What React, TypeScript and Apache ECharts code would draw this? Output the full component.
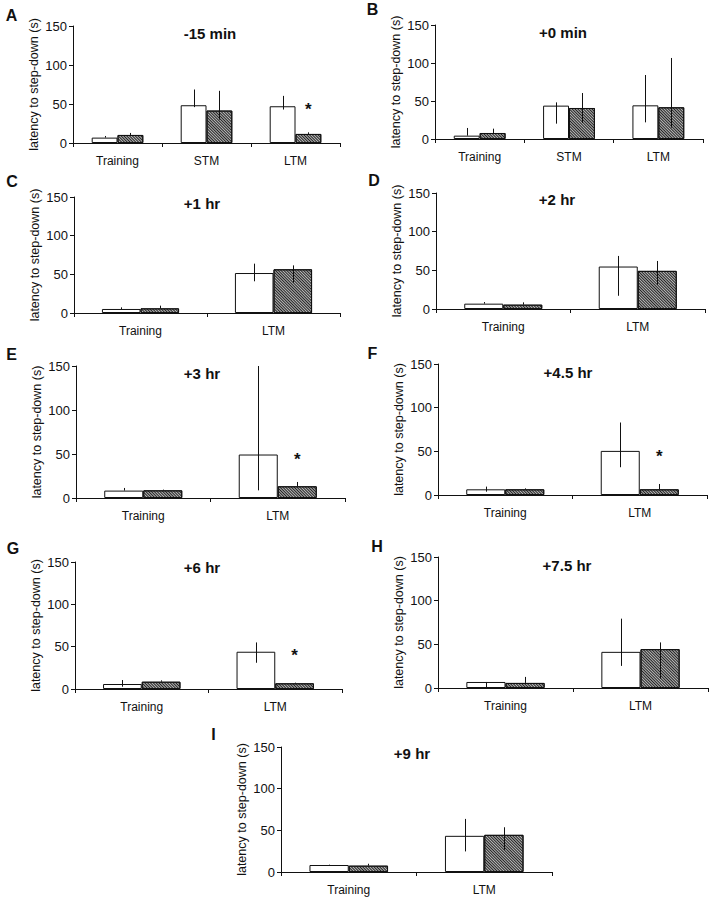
import React, { useEffect, useRef } from 'react';
import * as echarts from 'echarts';

const FONT = '"Liberation Sans", Arial, Helvetica, sans-serif';

// ---------- categories & ticks ----------
const cats3 = ['Training', 'STM', 'LTM'];
const cats2 = ['Training', 'LTM'];
const yTicks = [0, 50, 100, 150];

// ---------- data (mean, [low, high] error extents, significance star heights) ----------
// A: -15 min
const aWhite = [6.9, 48.4, 47.1];
const aWhiteErr = [[6.9, 9], [46, 68.6], [42.9, 60.4]];
const aHatch = [10.3, 41.6, 11.6];
const aHatchErr = [[10.3, 12.9], [30, 66.9], [11.6, 13.7]];
const aStars = [null, null, 47];

// B: +0 min
const bWhite = [4.4, 43.9, 44.3];
const bWhiteErr = [[4.4, 14.5], [20.2, 48.2], [21.9, 84.2]];
const bHatch = [7.9, 40.8, 41.7];
const bHatchErr = [[7.9, 13.6], [21, 60.5], [15, 106.6]];
const bStars = [null, null, null];

// C: +1 hr
const cWhite = [5.2, 51.7];
const cWhiteErr = [[5.2, 7.3], [41, 63.8]];
const cHatch = [6, 56.5];
const cHatchErr = [[6, 9.5], [39.2, 61.6]];
const cStars = [null, null];

// D: +2 hr
const dWhite = [6.9, 54.9];
const dWhiteErr = [[6.9, 9], [17.1, 68.6]];
const dHatch = [5.6, 49.3];
const dHatchErr = [[5.6, 8.6], [31.3, 62.1]];
const dStars = [null, null];

// E: +3 hr
const eWhite = [8.4, 49.4];
const eWhiteErr = [[8.4, 11.4], [8.7, 150]];
const eHatch = [8.7, 13.3];
const eHatchErr = [[8.7, 9.5], [13.3, 18.2]];
const eStars = [null, 46.7];

// F: +4.5 hr
const fWhite = [6.5, 50.5];
const fWhiteErr = [[3.8, 9.6], [31.8, 83]];
const fHatch = [6.5, 6.5];
const fHatchErr = [[6.5, 7.6], [6.5, 12.6]];
const fStars = [null, 48];

// G: +6 hr
const gWhite = [5.9, 44];
const gWhiteErr = [[2.7, 10.6], [31, 55]];
const gHatch = [8.6, 6.7];
const gHatchErr = [[8.6, 10.2], [6.7, 7.5]];
const gStars = [null, 42.8];

// H: +7.5 hr
const hWhite = [6.9, 41.4];
const hWhiteErr = [[0, 6.9], [25.3, 79.4]];
const hHatch = [5.8, 44.5];
const hHatchErr = [[5.8, 12.7], [10.7, 52.2]];
const hStars = [null, null];

// I: +9 hr
const iWhite = [8.4, 43.4];
const iWhiteErr = [[8.4, 8.8], [24.7, 63.7]];
const iHatch = [7.6, 44.6];
const iHatchErr = [[7.6, 9.9], [26.7, 53.7]];
const iStars = [null, null];

const panels = [
  { letter: 'A', title: '-15 min', cats: cats3, white: aWhite, whiteErr: aWhiteErr, hatch: aHatch, hatchErr: aHatchErr, stars: aStars },
  { letter: 'B', title: '+0 min', cats: cats3, white: bWhite, whiteErr: bWhiteErr, hatch: bHatch, hatchErr: bHatchErr, stars: bStars },
  { letter: 'C', title: '+1 hr', cats: cats2, white: cWhite, whiteErr: cWhiteErr, hatch: cHatch, hatchErr: cHatchErr, stars: cStars },
  { letter: 'D', title: '+2 hr', cats: cats2, white: dWhite, whiteErr: dWhiteErr, hatch: dHatch, hatchErr: dHatchErr, stars: dStars },
  { letter: 'E', title: '+3 hr', cats: cats2, white: eWhite, whiteErr: eWhiteErr, hatch: eHatch, hatchErr: eHatchErr, stars: eStars },
  { letter: 'F', title: '+4.5 hr', cats: cats2, white: fWhite, whiteErr: fWhiteErr, hatch: fHatch, hatchErr: fHatchErr, stars: fStars },
  { letter: 'G', title: '+6 hr', cats: cats2, white: gWhite, whiteErr: gWhiteErr, hatch: gHatch, hatchErr: gHatchErr, stars: gStars },
  { letter: 'H', title: '+7.5 hr', cats: cats2, white: hWhite, whiteErr: hWhiteErr, hatch: hHatch, hatchErr: hHatchErr, stars: hStars },
  { letter: 'I', title: '+9 hr', cats: cats2, white: iWhite, whiteErr: iWhiteErr, hatch: iHatch, hatchErr: iHatchErr, stars: iStars },
];

// ---------- layout (px) ----------
const layouts = [
  { l: 73, t: 26, w: 267, h: 117, lx: 11.5, ly: 15.5, tx: 210, ty: 33 },
  { l: 435, t: 25, w: 268, h: 114, lx: 372.5, ly: 9.5, tx: 563, ty: 32 },
  { l: 74, t: 197, w: 266, h: 116, lx: 12, ly: 181, tx: 202, ty: 203 },
  { l: 436, t: 193, w: 269, h: 116, lx: 374, ly: 180.5, tx: 557, ty: 199 },
  { l: 76, t: 366, w: 269, h: 132, lx: 11.5, ly: 354.5, tx: 202, ty: 373 },
  { l: 438, t: 364, w: 269, h: 131, lx: 372.5, ly: 353, tx: 568, ty: 372 },
  { l: 75, t: 562, w: 267, h: 127, lx: 13, ly: 548, tx: 202, ty: 567 },
  { l: 438, t: 557, w: 270, h: 131, lx: 377, ly: 546.5, tx: 567, ty: 565 },
  { l: 281, t: 747, w: 271, h: 125, lx: 213.5, ly: 734.5, tx: 412, ty: 753 },
];

const BAR_W = 0.29;
const INK = '#111';

function errRender(params: any, api: any) {
  const c = api.value(0);
  const band = api.size([1, 0])[0];
  const p1 = api.coord([c, api.value(1)]);
  const p2 = api.coord([c, api.value(2)]);
  const x = Math.round(p1[0] + band * (BAR_W / 2) * api.value(3)) + 0.5;
  return {
    type: 'line',
    shape: { x1: x, y1: p1[1], x2: x, y2: p2[1] },
    style: { stroke: INK, lineWidth: 1 },
  };
}

function starRender(params: any, api: any) {
  const c = api.value(0);
  const band = api.size([1, 0])[0];
  const p = api.coord([c, api.value(1)]);
  return {
    type: 'text',
    x: p[0] + band * (BAR_W / 2),
    y: p[1] + 3,
    style: {
      text: '*',
      font: `bold 17px ${FONT}`,
      textAlign: 'center',
      textVerticalAlign: 'middle',
      fill: INK,
    },
  };
}

function buildOption() {
  const grid: any[] = [];
  const xAxis: any[] = [];
  const yAxis: any[] = [];
  const series: any[] = [];
  const graphic: any[] = [];

  panels.forEach((p, i) => {
    const L = layouts[i];
    grid.push({ left: L.l, top: L.t, width: L.w, height: L.h });
    xAxis.push({
      type: 'category',
      gridIndex: i,
      data: p.cats,
      axisLine: { show: true, lineStyle: { color: INK, width: 1 } },
      axisTick: { show: true, length: 4, lineStyle: { color: INK } },
      axisLabel: { color: INK, fontSize: 12, fontFamily: FONT, margin: 12 },
      splitLine: { show: false },
    });
    yAxis.push({
      type: 'value',
      gridIndex: i,
      min: yTicks[0],
      max: yTicks[yTicks.length - 1],
      interval: yTicks[1] - yTicks[0],
      axisLine: { show: true, lineStyle: { color: INK, width: 1 } },
      axisTick: { show: true, length: 4, lineStyle: { color: INK } },
      axisLabel: { color: INK, fontSize: 13, fontFamily: FONT, margin: 6 },
      splitLine: { show: false },
      name: 'latency to step-down (s)',
      nameLocation: 'middle',
      nameGap: 33,
      nameTextStyle: { color: INK, fontSize: 12.5, fontFamily: FONT },
    });
    series.push({
      type: 'bar',
      xAxisIndex: i,
      yAxisIndex: i,
      data: p.white,
      barWidth: `${BAR_W * 100}%`,
      barGap: '0%',
      itemStyle: { color: '#ffffff', borderColor: INK, borderWidth: 1 },
      silent: true,
    });
    series.push({
      type: 'bar',
      xAxisIndex: i,
      yAxisIndex: i,
      data: p.hatch,
      barWidth: `${BAR_W * 100}%`,
      barGap: '0%',
      itemStyle: {
        color: '#b8b8b8',
        borderColor: INK,
        borderWidth: 1,
        decal: {
          symbol: 'rect',
          symbolSize: 1,
          rotation: Math.PI / 4,
          dashArrayX: [1, 0],
          dashArrayY: [1, 1],
          color: '#222',
        },
      },
      silent: true,
    });
    const errData: any[] = [];
    p.whiteErr.forEach((e, j) => errData.push([j, e[0], e[1], -1]));
    p.hatchErr.forEach((e, j) => errData.push([j, e[0], e[1], 1]));
    series.push({
      type: 'custom',
      xAxisIndex: i,
      yAxisIndex: i,
      data: errData,
      renderItem: errRender,
      z: 5,
      silent: true,
    });
    const starData = p.stars
      .map((s, j) => (s == null ? null : [j, s]))
      .filter((d) => d !== null);
    if (starData.length) {
      series.push({
        type: 'custom',
        xAxisIndex: i,
        yAxisIndex: i,
        data: starData,
        renderItem: starRender,
        z: 6,
        silent: true,
      });
    }
    graphic.push({
      type: 'text',
      x: L.lx,
      y: L.ly,
      style: {
        text: p.letter,
        font: `bold 16px ${FONT}`,
        textAlign: 'center',
        textVerticalAlign: 'middle',
        fill: INK,
      },
    });
    graphic.push({
      type: 'text',
      x: L.tx,
      y: L.ty,
      style: {
        text: p.title,
        font: `bold 15px ${FONT}`,
        textAlign: 'center',
        textVerticalAlign: 'middle',
        fill: INK,
      },
    });
  });

  return {
    animation: false,
    backgroundColor: '#ffffff',
    grid,
    xAxis,
    yAxis,
    series,
    graphic,
  };
}

export default function App() {
  const ref = useRef<HTMLDivElement>(null);
  useEffect(() => {
    if (!ref.current) return;
    const chart = echarts.init(ref.current, undefined, { renderer: 'svg' });
    chart.setOption(buildOption() as any);
    return () => chart.dispose();
  }, []);
  return (
    <div
      ref={ref}
      style={{ position: 'absolute', left: 0, top: 0, width: 710, height: 900, background: '#fff' }}
    />
  );
}
